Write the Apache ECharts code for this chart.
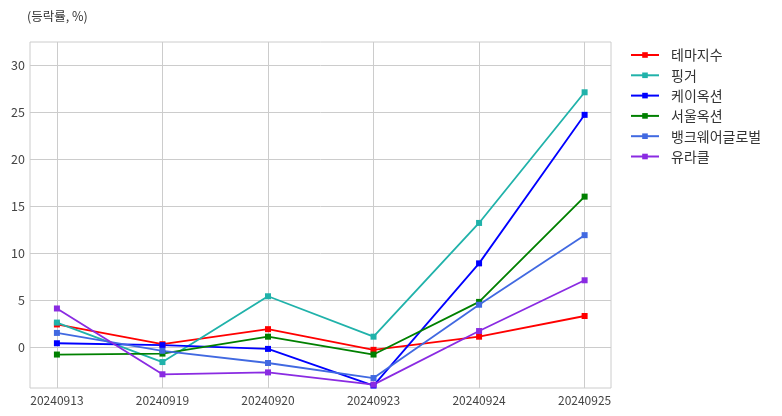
<!DOCTYPE html>
<html>
<head>
<meta charset="utf-8">
<script src="https://cdn.jsdelivr.net/npm/echarts@6/dist/echarts.min.js"></script>
<style>
html,body{margin:0;padding:0;background:#fff;}
#chart{width:782px;height:416px;}
</style>
</head>
<body>
<div id="chart"></div>
<script>
const categories = ['20240913','20240919','20240920','20240923','20240924','20240925'];
const seriesNames = ['테마지수','핑거','케이옥션','서울옥션','뱅크웨어글로벌','유라클'];
const themeIndex = [2.4, 0.3, 1.9, -0.3, 1.1, 3.3];
const finger = [2.6, -1.6, 5.4, 1.1, 13.2, 27.1];
const kAuction = [0.4, 0.2, -0.2, -4.1, 8.9, 24.7];
const seoulAuction = [-0.8, -0.7, 1.1, -0.8, 4.8, 16.0];
const bankware = [1.5, -0.4, -1.7, -3.3, 4.5, 11.9];
const uracle = [4.1, -2.9, -2.7, -4.0, 1.7, 7.1];
const yTicks = [0, 5, 10, 15, 20, 25, 30];
const colors = ['#ff0000','#20b2aa','#0000ff','#008000','#4169e1','#8a2be2'];

const allValues = [themeIndex, finger, kAuction, seoulAuction, bankware, uracle];
const xIdx = categories.map((c, i) => i);
const FONT = '"Noto Sans CJK KR", "Noto Sans", sans-serif';

const chart = echarts.init(document.getElementById('chart'), null, {renderer: 'canvas'});
chart.setOption({
  animation: false,
  backgroundColor: '#ffffff',
  title: {
    text: '(등락률, %)',
    left: 22, top: 5,
    textStyle: {fontSize: 12.5, fontWeight: 'normal', color: '#333', fontFamily: FONT}
  },
  legend: {
    orient: 'vertical',
    left: 625, top: 43,
    itemWidth: 28, itemHeight: 7, itemGap: 6.3,
    textStyle: {fontSize: 14, color: '#333', fontFamily: FONT, padding: [0, 0, 0, 7]},
    data: seriesNames
  },
  grid: {
    left: 30, right: 171, top: 42, bottom: 28,
    show: true, borderColor: '#cccccc', borderWidth: 1
  },
  xAxis: {
    type: 'value',
    min: -0.255, max: 5.25,
    axisLine: {show: false},
    axisTick: {show: false, customValues: xIdx},
    splitLine: {show: true, lineStyle: {color: '#cccccc', width: 1}},
    axisLabel: {
      customValues: xIdx,
      formatter: v => categories[Math.round(v)],
      fontSize: 12, color: '#444', fontFamily: FONT, margin: 6
    }
  },
  yAxis: {
    type: 'value',
    min: -4.36, max: 32.45,
    axisLine: {show: false},
    axisTick: {show: false, customValues: yTicks},
    splitLine: {show: true, lineStyle: {color: '#cccccc', width: 1}},
    axisLabel: {
      customValues: yTicks,
      fontSize: 12.5, color: '#444', fontFamily: FONT, margin: 5
    }
  },
  series: seriesNames.map((name, k) => ({
    name: name,
    type: 'line',
    data: allValues[k].map((v, i) => [xIdx[i], v]),
    symbol: 'rect',
    symbolSize: 6,
    color: colors[k],
    lineStyle: {width: 1.8, color: colors[k]},
    itemStyle: {color: colors[k]},
    clip: true
  }))
});
</script>
</body>
</html>
